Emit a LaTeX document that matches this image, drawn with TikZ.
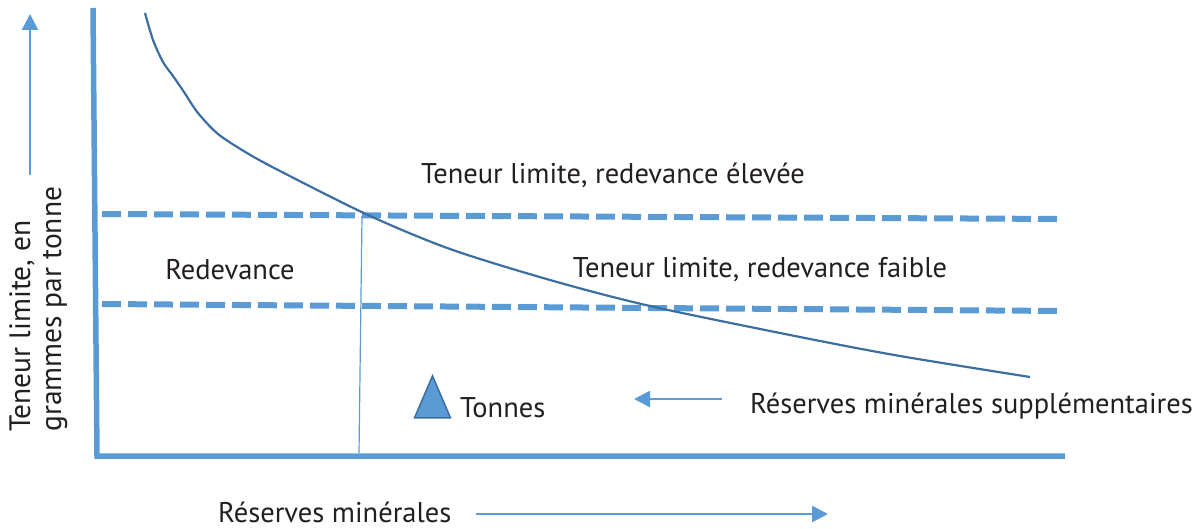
\documentclass[tikz,border=0pt]{standalone}
\usepackage{fontspec}
\setmainfont{PT Sans}
\usepackage{tikz}
\usetikzlibrary{arrows.meta}
\usetikzlibrary{positioning}
\usetikzlibrary{shapes.geometric}

\definecolor{axisblue}{HTML}{5B9BD5}
\definecolor{curveblue}{HTML}{3C6E9F}
\definecolor{textgray}{HTML}{231F20}

\tikzset{
  lbl/.style={font=\fontsize{28.5}{33}\selectfont, text=textgray, inner sep=0pt},
  axis/.style={draw=axisblue, line width=5.5pt},
  limit/.style={draw=axisblue, line width=6pt, dash pattern=on 19pt off 7pt},
  pointer/.style={draw=axisblue, line width=2.5pt, -{Triangle[length=16pt,width=16pt]}},
}

\begin{document}
\begin{tikzpicture}[x=1pt,y=-1pt]
  \useasboundingbox (0,0) rectangle (1204,529);

  % axes
  \coordinate (top) at (93,8);
  \coordinate (origin) at (97,456);
  \coordinate (xend) at (1065,456);
  \draw[axis] (top) -- (origin) -- (xend);

  % grade limits
  \coordinate (hiL) at (102,214);
  \coordinate (hiR) at (1063,219);
  \coordinate (loL) at (102,304);
  \coordinate (loR) at (1063,311);
  \draw[limit] (hiL) -- (hiR);
  \draw[limit] (loL) -- (loR);

  % cut-off curve
  \draw[curveblue, line width=2.2pt] plot[smooth, tension=0.5] coordinates {
    (145,13) (153,40) (163,62) (173,76) (184,92) (198,113) (218,134)
    (247,153) (280,171) (368,215) (450,249) (550,280) (650,306)
    (800,337) (900,356) (1030,377)};

  \coordinate (cut) at (362,216);
  \coordinate (cutfoot) at (359,453);
  \draw[axisblue, line width=1.2pt] (cut) -- (cutfoot);

  % labels
  \node[lbl] (high) at (613,175) {Teneur limite, redevance élevée};
  \node[lbl] (royalty) at (230,270) {Redevance};
  \node[lbl] (low) at (760,270) {Teneur limite, redevance faible};

  \node[isosceles triangle, shape border rotate=90,
      isosceles triangle stretches,
      fill=axisblue, draw=curveblue, line width=1.5pt,
      minimum width=36pt, minimum height=42pt, inner sep=0pt] (tri) at (432.5,406) {};
  \node[lbl, anchor=west] (tonnes) at (460,408) {Tonnes};

  \node[lbl, anchor=west] (extra) at (750,406) {Réserves minérales supplémentaires};
  \coordinate (extratail) at (722,399);
  \coordinate (extratip) at (634,399);
  \draw[pointer] (extratail) -- (extratip);

  \node[lbl, anchor=west] (reserves) at (218,512) {Réserves minérales};
  \coordinate (restail) at (476,514);
  \coordinate (restip) at (828,514);
  \draw[pointer] (restail) -- (restip);

  \node[lbl, font=\fontsize{29.5}{31}\selectfont, rotate=90, align=left,
      anchor=north west] (ylabel) at (9,432)
    {Teneur limite, en\\grammes par tonne};
  \coordinate (ytail) at (30,175);
  \coordinate (ytip) at (30,14);
  \draw[pointer] (ytail) -- (ytip);
\end{tikzpicture}
\end{document}
